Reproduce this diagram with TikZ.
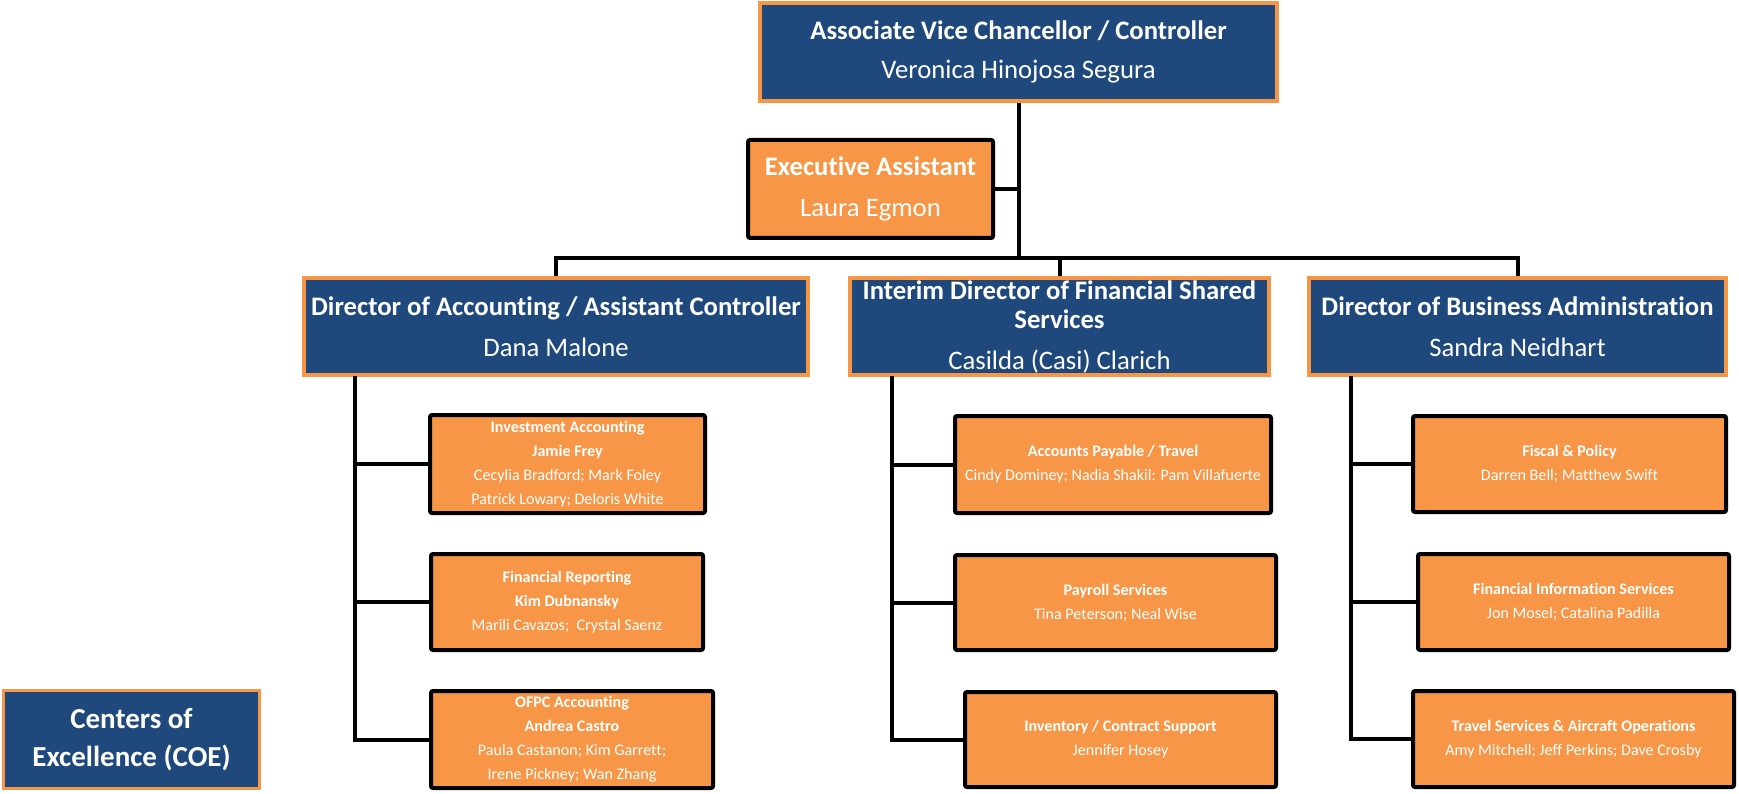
\documentclass[tikz,border=0pt]{standalone}
\usepackage{fontspec}
\setmainfont{Carlito}[Ligatures=NoCommon]
\definecolor{cblue}{HTML}{1F497D}
\definecolor{corange}{HTML}{F79646}
\begin{document}
\begin{tikzpicture}[x=1pt,y=1pt,
  bluebox/.style={draw=corange, fill=cblue, line width=4pt, text=white, align=center, inner sep=0pt, font=\fontsize{26.7}{29}\selectfont},
  eabox/.style={draw=black, fill=corange, line width=4pt, rounded corners=2pt, text=white, align=center, inner sep=0pt, font=\fontsize{26.7}{29}\selectfont},
  subbox/.style={draw=black, fill=corange, line width=4pt, rounded corners=2pt, text=white, align=center, inner sep=0pt, font=\fontsize{16.1}{24}\selectfont},
  coebox/.style={draw=corange, fill=cblue, line width=3pt, text=white, align=center, inner sep=0pt, font=\fontsize{29}{38}\selectfont\bfseries},
  conn/.style={draw=black, line width=4pt}]
\useasboundingbox (0,0) rectangle (1739,-794);
% top level
\node[bluebox, minimum width=517pt, minimum height=98pt] (top) at (1018.5,-52) {\textbf{Associate Vice Chancellor / Controller}\\[10pt]Veronica Hinojosa Segura};
\node[eabox, minimum width=245pt, minimum height=98pt] (ea) at (870.5,-189) {\textbf{Executive Assistant}\\[12pt]Laura Egmon};
% directors
\node[bluebox, minimum width=504pt, minimum height=97pt] (dl) at (556,-326.5) {\textbf{Director of Accounting / Assistant Controller}\\[12pt]Dana Malone};
\node[bluebox, minimum width=419pt, minimum height=97pt] (dm) at (1059.5,-326.5) {\textbf{Interim Director of Financial Shared}\\\textbf{Services}\\[12pt]Casilda (Casi) Clarich};
\node[bluebox, minimum width=417pt, minimum height=97pt] (dr) at (1517.5,-326.5) {\textbf{Director of Business Administration}\\[12pt]Sandra Neidhart};
% left column
\node[subbox, minimum width=275pt, minimum height=98pt] (inv) at (567.5,-464) {\textbf{Investment Accounting}\\\textbf{Jamie Frey}\\Cecylia Bradford; Mark Foley\\Patrick Lowary; Deloris White};
\node[subbox, minimum width=272pt, minimum height=96pt] (frep) at (567,-602) {\textbf{Financial Reporting}\\\textbf{Kim Dubnansky}\\Marili Cavazos;\ \ Crystal Saenz};
\node[subbox, minimum width=282pt, minimum height=97pt] (ofpc) at (572,-739.5) {\textbf{OFPC Accounting}\\\textbf{Andrea Castro}\\Paula Castanon; Kim Garrett;\\Irene Pickney; Wan Zhang};
% middle column
\node[subbox, minimum width=316pt, minimum height=97pt] (ap) at (1113,-464.5) {\textbf{Accounts Payable / Travel}\\Cindy Dominey; Nadia Shakil: Pam Villafuerte};
\node[subbox, minimum width=321pt, minimum height=95pt] (pay) at (1115.5,-602.5) {\textbf{Payroll Services}\\Tina Peterson; Neal Wise};
\node[subbox, minimum width=311pt, minimum height=95pt] (inv2) at (1120.5,-739.5) {\textbf{Inventory / Contract Support}\\Jennifer Hosey};
% right column
\node[subbox, minimum width=313pt, minimum height=96pt] (fis) at (1569.5,-464) {\textbf{Fiscal \& Policy}\\Darren Bell; Matthew Swift};
\node[subbox, minimum width=311pt, minimum height=96pt] (fis2) at (1573.5,-602) {\textbf{Financial Information Services}\\Jon Mosel; Catalina Padilla};
\node[subbox, minimum width=321pt, minimum height=96pt] (trav) at (1573.5,-739) {\textbf{Travel Services \& Aircraft Operations}\\Amy Mitchell; Jeff Perkins; Dave Crosby};
% COE
\node[coebox, minimum width=256pt, minimum height=98pt] (coe) at (131.5,-739.5) {Centers of\\Excellence (COE)};
% connectors
\coordinate (bus) at (1018.5,-258);
\draw[conn] (top.south) -- (bus);
\draw[conn] (ea.east) -- (ea.east -| top.south);
\draw[conn] (dl.north) |- (bus) -| (dr.north);
\draw[conn] (dm.north) -- (dm.north |- bus);
\coordinate (sl) at (355,-376);
\coordinate (sm) at (892,-376);
\coordinate (sr) at (1351,-376);
\draw[conn] (sl) |- (ofpc.west);
\draw[conn] (inv.west) -- (inv.west -| sl);
\draw[conn] (frep.west) -- (frep.west -| sl);
\draw[conn] (sm) |- (inv2.west);
\draw[conn] (ap.west) -- (ap.west -| sm);
\draw[conn] (pay.west) -- (pay.west -| sm);
\draw[conn] (sr) |- (trav.west);
\draw[conn] (fis.west) -- (fis.west -| sr);
\draw[conn] (fis2.west) -- (fis2.west -| sr);
\end{tikzpicture}
\end{document}
